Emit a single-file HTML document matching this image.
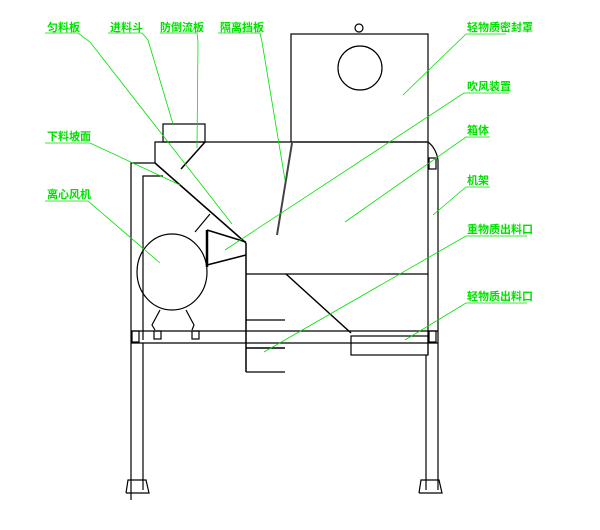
<!DOCTYPE html>
<html><head><meta charset="utf-8"><style>
body{margin:0;background:#fff}
svg text{font-family:"Liberation Sans","Noto Sans CJK SC",sans-serif;font-size:11px;font-weight:bold;fill:#00e000}
</style></head><body>
<svg width="600" height="525" viewBox="0 0 600 525" xmlns="http://www.w3.org/2000/svg">
<g fill="none" stroke="#000" stroke-width="1.2">
<!-- top seal box -->
<rect x="291" y="34" width="137" height="108"/>
<circle cx="360" cy="68" r="22"/>
<circle cx="359" cy="28" r="4"/>
<!-- inlet box -->
<rect x="163" y="124" width="42" height="18"/>
<!-- main box -->
<polyline points="155,163 155,142 428,142 428,355"/>
<polyline points="131,500 131,163 155,163"/>
<polyline points="143,340 143,176 163,176"/>
<line x1="155" y1="163" x2="246" y2="243" stroke-width="1.5"/>
<line x1="205" y1="142" x2="181" y2="169" stroke-width="1.5"/>
<line x1="292" y1="143" x2="277" y2="235" stroke-width="2" stroke="#444"/>
<!-- center column -->
<line x1="246" y1="243" x2="246" y2="372" stroke-width="1.5"/>
<line x1="246" y1="274" x2="428" y2="274"/>
<line x1="246" y1="320" x2="285" y2="320"/>
<line x1="246" y1="348" x2="285" y2="348" stroke-width="1.5"/>
<line x1="246" y1="372" x2="285" y2="372"/>
<line x1="286" y1="274" x2="351" y2="333" stroke-width="1.5"/>
<rect x="351" y="336" width="77" height="19"/>
<!-- fan -->
<ellipse cx="172" cy="272" rx="35" ry="38"/>
<line x1="207" y1="230" x2="207" y2="267" stroke-width="2.5"/>
<line x1="207" y1="230" x2="246" y2="242" stroke-width="1.5"/>
<line x1="207" y1="265" x2="246" y2="255" stroke-width="1.5"/>
<line x1="195" y1="232" x2="210" y2="214"/>
<polyline points="160,310 152,325 155,330"/>
<polyline points="186,310 194,325 192,330"/>
<rect x="154" y="331" width="7" height="8"/>
<rect x="192" y="331" width="7" height="8"/>
<!-- frame -->
<line x1="131" y1="331" x2="438" y2="331"/>
<line x1="131" y1="343" x2="438" y2="343"/>
<rect x="132" y="331" width="7" height="11"/>
<rect x="429" y="331" width="7" height="11"/>
<rect x="429" y="158" width="7" height="11"/>
<line x1="143" y1="343" x2="143" y2="490"/>
<line x1="438" y1="160" x2="438" y2="490"/>
<line x1="426" y1="355" x2="426" y2="490"/>
<path d="M428,142 Q436,148 438,160"/>
<polyline points="126,493 128,480 146,480 149,493 126,493"/>
<polyline points="419,493 421,480 439,480 442,493 419,493"/>
</g>
<g stroke="#00e000" stroke-width="0.8" fill="none">
<polyline points="45,33 78,33 90,42 232,224"/>
<polyline points="108,33 142,33 148,40 173,124"/>
<polyline points="160,33 197,33 198,42 197,148"/>
<polyline points="218,33 260,33 262,42 285,180"/>
<polyline points="506,34 466,34 403,95"/>
<polyline points="509,93 464,93 225,250"/>
<polyline points="490,137 466,137 345,222"/>
<polyline points="490,187 466,187 433,215"/>
<polyline points="527,236 466,236 264,352"/>
<polyline points="527,303 466,303 405,340"/>
<polyline points="45,143 90,143 180,185"/>
<polyline points="45,201 88,201 160,263"/>
</g>
<text x="47" y="31">匀料板</text>
<text x="110" y="31">进料斗</text>
<text x="160" y="31">防倒流板</text>
<text x="220" y="31">隔离挡板</text>
<text x="467" y="31">轻物质密封罩</text>
<text x="467" y="90">吹风装置</text>
<text x="467" y="134">箱体</text>
<text x="467" y="184">机架</text>
<text x="467" y="233">重物质出料口</text>
<text x="467" y="300">轻物质出料口</text>
<text x="47" y="140">下料坡面</text>
<text x="47" y="198">离心风机</text>
</svg>
</body></html>
